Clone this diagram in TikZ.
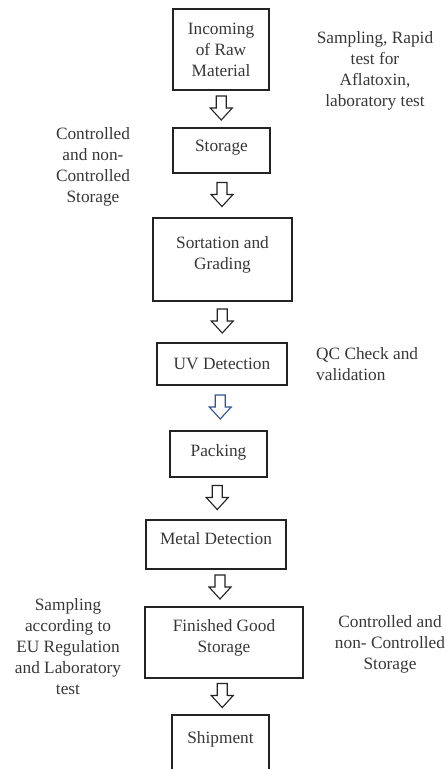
\documentclass[tikz,border=0pt]{standalone}
\usepackage{fontspec}
\setmainfont{Liberation Serif}
\usepackage{tikz}
\usetikzlibrary{calc}
\usepackage{xcolor}
\definecolor{tinta}{RGB}{35, 35, 35}
\definecolor{texto}{RGB}{55, 55, 55}
\definecolor{azulseta}{RGB}{47, 84, 150}

% seta oca entre duas caixas
\newcommand{\setaoca}[3][tinta]{%
  \draw[contorno, draw=#1]
    let \p1=($(#2.south)!0.5!(#3.north)$) in
    (\x1-5,\y1+13) -- (\x1-5,\y1+1) -- (\x1-11,\y1+1) -- (\x1,\y1-11)
    -- (\x1+11,\y1+1) -- (\x1+5,\y1+1) -- (\x1+5,\y1+13) -- cycle;
}

\begin{document}
\begin{tikzpicture}[
    x=1pt, y=1pt,
    font=\fontsize{17.3}{21}\selectfont,
    caixa/.style={
        draw=tinta,
        line width=1.3pt,
        align=center,
        inner sep=2pt,
        text=texto
    },
    obs/.style={
        align=center,
        inner sep=0pt,
        text=texto
    },
    contorno/.style={
        line width=1.1pt,
        fill=white,
        line join=miter
    }
]

\useasboundingbox (0,0) rectangle (446,-769);
\clip (0,0) rectangle (446,-769);

% =================================================
% ETAPAS DO PROCESSO
% =================================================

\node[caixa, minimum width=96, minimum height=81] (b1) at (221,-49.5)
{Incoming\\of Raw\\Material};

\node[caixa, minimum width=97, minimum height=45, text depth=10] (b2) at (221.5,-150.5)
{Storage};

\node[caixa, minimum width=139, minimum height=83, text depth=14] (b3) at (222.5,-259.5)
{Sortation and\\Grading};

\node[caixa, minimum width=130, minimum height=42] (b4) at (222,-364)
{UV Detection};

\node[caixa, minimum width=97, minimum height=46, text depth=8] (b5) at (218.5,-454)
{Packing};

\node[caixa, minimum width=140, minimum height=49, text depth=12] (b6) at (216,-544.5)
{Metal Detection};

\node[caixa, minimum width=158, minimum height=71, text depth=14] (b7) at (224,-642.5)
{Finished Good\\Storage};

\node[caixa, minimum width=97, minimum height=56, text depth=12] (b8) at (220.5,-743)
{Shipment};

\setaoca{b1}{b2}
\setaoca{b2}{b3}
\setaoca{b3}{b4}
\setaoca[azulseta]{b4}{b5}
\setaoca{b5}{b6}
\setaoca{b6}{b7}
\setaoca{b7}{b8}

% =================================================
% OBSERVACOES
% =================================================

\node[obs] (n1) at (375,-71)
{Sampling, Rapid\\test for\\Aflatoxin,\\laboratory test};

\node[obs] (n2) at (93,-167)
{Controlled\\and non-\\Controlled\\Storage};

\node[obs, anchor=west, align=left] (n3) at (316,-364)
{QC Check and\\validation};

\node[obs] (n4) at (68,-647)
{Sampling\\according to\\EU Regulation\\and Laboratory\\test};

\node[obs] (n5) at (390,-644)
{Controlled and\\non- Controlled\\Storage};

\end{tikzpicture}
\end{document}
